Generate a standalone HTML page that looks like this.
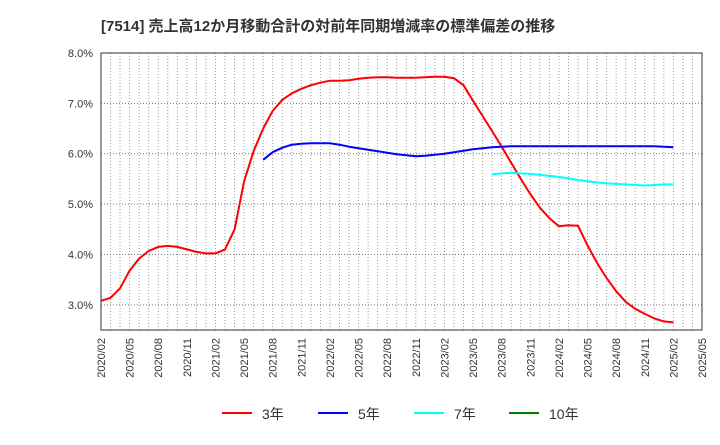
<!DOCTYPE html>
<html><head><meta charset="utf-8"><style>
body{margin:0;background:#fff;font-family:"Liberation Sans","Noto Sans CJK JP",sans-serif}
</style></head><body>
<svg id="chart" width="720" height="440" xmlns="http://www.w3.org/2000/svg" font-family="Liberation Sans, Noto Sans CJK JP, sans-serif">
<text x="101" y="31" font-size="15" font-weight="bold" fill="#333">[7514]  売上高12か月移動合計の対前年同期増減率の標準偏差の推移</text>
<g id="grid"></g><g id="series"></g><g id="axes"></g><g id="legend"></g>
</svg>
<script>
const xLabels=["2020/02","2020/05","2020/08","2020/11","2021/02","2021/05","2021/08","2021/11","2022/02","2022/05","2022/08","2022/11","2023/02","2023/05","2023/08","2023/11","2024/02","2024/05","2024/08","2024/11","2025/02","2025/05"];
const yTicks=[3,4,5,6,7,8];
const s3=[3.08,3.14,3.33,3.68,3.92,4.07,4.15,4.17,4.15,4.10,4.05,4.02,4.02,4.10,4.50,5.45,6.05,6.50,6.85,7.07,7.20,7.29,7.36,7.41,7.45,7.45,7.46,7.49,7.51,7.52,7.52,7.51,7.51,7.51,7.52,7.53,7.53,7.50,7.36,7.05,6.75,6.45,6.14,5.82,5.50,5.20,4.93,4.72,4.56,4.58,4.57,4.18,3.83,3.53,3.27,3.06,2.92,2.82,2.73,2.67,2.65];
const s5Start=17;
const s5=[5.88,6.03,6.12,6.18,6.20,6.21,6.21,6.21,6.18,6.14,6.11,6.08,6.05,6.02,5.99,5.97,5.95,5.96,5.98,6.00,6.03,6.06,6.09,6.11,6.13,6.14,6.15,6.15,6.15,6.15,6.15,6.15,6.15,6.15,6.15,6.15,6.15,6.15,6.15,6.15,6.15,6.15,6.14,6.13];
const s7Start=41;
const s7=[5.59,5.61,5.62,5.61,5.60,5.58,5.56,5.54,5.51,5.48,5.45,5.43,5.41,5.40,5.39,5.38,5.37,5.38,5.39,5.39];
const L=101,R=702,T=53,B=330,yMin=2.5,yMax=8,months=63;
const NS="http://www.w3.org/2000/svg";
const x=i=>L+(R-L)*i/months;
const y=v=>B-(B-T)*(v-yMin)/(yMax-yMin);
function mk(p,t,a){const e=document.createElementNS(NS,t);for(const k in a)e.setAttribute(k,a[k]);p.appendChild(e);return e;}
const g=document.getElementById('grid'),ax=document.getElementById('axes'),se=document.getElementById('series'),lg=document.getElementById('legend');
for(let i=1;i<months;i++){const l=mk(g,'line',{x1:x(i),x2:x(i),y1:T,y2:B,stroke:'#999','stroke-dasharray':'1,2','stroke-width':1});

}
yTicks.forEach(v=>{const l=mk(g,'line',{x1:L,x2:R,y1:y(v),y2:y(v),stroke:'#777','stroke-dasharray':'1,2','stroke-width':1});


const t=mk(ax,'text',{x:L-8,y:y(v)+4,'text-anchor':'end','font-size':11,fill:'#333'});t.textContent=v.toFixed(1)+'%';

});
const fr=mk(ax,'rect',{x:L,y:T,width:R-L,height:B-T,fill:'none',stroke:'#333','stroke-width':1});


xLabels.forEach((s,i)=>{const xx=x(i*3);const t=mk(ax,'text',{x:0,y:0,'text-anchor':'end','font-size':11,fill:'#333',transform:`translate(${xx+4},${B+8}) rotate(-90)`});t.textContent=s;

});
function line(arr,start,color,name){const pts=arr.map((v,i)=>x(start+i).toFixed(1)+','+y(v).toFixed(1)).join(' ');
const p=mk(se,'polyline',{points:pts,fill:'none',stroke:color,'stroke-width':2,'stroke-linejoin':'round'});

}
line(s3,0,'#ff0000','series-3y');
line(s5,s5Start,'#0000ff','series-5y');
line(s7,s7Start,'#00ffff','series-7y');
const leg=[['3年','#ff0000',222],['5年','#0000ff',318],['7年','#00ffff',414],['10年','#008000',509]];
leg.forEach(([n,c,lx])=>{const gg=mk(lg,'g',{});


mk(gg,'line',{x1:lx,x2:lx+30,y1:413,y2:413,stroke:c,'stroke-width':2});
const t=mk(gg,'text',{x:lx+40,y:419,'font-size':14,fill:'#333'});t.textContent=n;});
</script>
</body></html>
